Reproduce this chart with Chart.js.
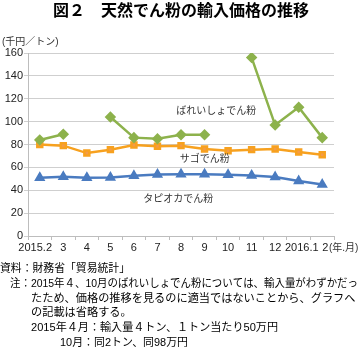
<!DOCTYPE html>
<html>
<head>
<meta charset="utf-8">
<script src="https://cdn.jsdelivr.net/npm/chart.js@4/dist/chart.umd.min.js"></script>
<style>
  body { margin: 0; background: #fff; }
  #wrap { position: relative; width: 360px; height: 347px; }
</style>
</head>
<body>
<div id="wrap"><canvas id="mycanvas" width="360" height="347"></canvas></div>
<script>
var months = ['2015.2', '3', '4', '5', '6', '7', '8', '9', '10', '11', '12', '2016.1', '2'];
var potato = [84, 89, null, 104, 86, 85, 88.5, 88.5, null, 156, 97, 112.5, 86];
var sago = [80, 79, 72.5, 75.5, 79.5, 78.5, 79, 76, 74.5, 75.5, 76, 73.5, 71];
var tapioca = [51, 51.8, 51, 51.2, 52.6, 53.8, 54, 54, 53.5, 53, 51.5, 48, 45];
var yTicks = [0, 20, 40, 60, 80, 100, 120, 140, 160];

var FONT = '"Liberation Sans", "Noto Sans CJK JP", sans-serif';

// footnote lines: x, y, max width
var notes = [
	{ x: 0, y: 269, w: 130, t: '資料：財務省「貿易統計」' },
	{ x: 10, y: 284, w: 348, t: '注：2015年４、10月のばれいしょでん粉については、輸入量がわずかだっ' },
	{ x: 31, y: 299, w: 327, t: 'たため、価格の推移を見るのに適当ではないことから、グラフへ' },
	{ x: 31, y: 313, w: 200, t: 'の記載は省略する。' },
	{ x: 31, y: 328, w: 247, t: '2015年４月：輸入量４トン、１トン当たり50万円' },
	{ x: 60, y: 343, w: 128, t: '10月：同2トン、同98万円' }
];

var extras = {
	id: 'extras',
	afterDraw: function(chart) {
		var c = chart.ctx;
		var xs = chart.scales.x, ys = chart.scales.y;
		c.save();
		c.fillStyle = '#000';
		c.textBaseline = 'middle';
		c.textAlign = 'center';
		c.font = 'bold 16px ' + FONT;
		c.fillText('図２　天然でん粉の輸入価格の推移', 181, 12);

		c.textAlign = 'left';
		c.font = '10px ' + FONT;
		c.fillStyle = '#333';
		c.fillText('(千円／トン)', 2, 42);

		c.font = '10px ' + FONT;
		c.fillText('(年.月)', 329, 248, 31);

		// series labels
		c.font = '10px ' + FONT;
		c.fillText('ばれいしょでん粉', xs.getPixelForValue(5.8), ys.getPixelForValue(109.5));
		c.fillText('サゴでん粉', xs.getPixelForValue(5.95), ys.getPixelForValue(67.5));
		c.fillText('タピオカでん粉', xs.getPixelForValue(4.4), ys.getPixelForValue(32));

		c.fillStyle = '#000';
		c.font = '11.2px ' + FONT;
		for (var i in notes) {
			c.fillText(notes[i].t, notes[i].x, notes[i].y, notes[i].w);
		}
		c.restore();
	}
};

var ctx = document.getElementById('mycanvas');

var lineChart = new Chart(ctx, {
	type: 'line',
	data: {
		labels: months,
		datasets: [
			{
				label: 'ばれいしょでん粉',
				data: potato,
				borderColor: '#8db24c',
				backgroundColor: '#8db24c',
				pointStyle: 'rectRot',
				pointRadius: 4,
				borderWidth: 2.5,
				spanGaps: false
			},
			{
				label: 'サゴでん粉',
				data: sago,
				borderColor: '#f7a11f',
				backgroundColor: '#f39a4c',
				pointStyle: 'rect',
				pointRadius: 3.5,
				borderWidth: 2.5
			},
			{
				label: 'タピオカでん粉',
				data: tapioca,
				borderColor: '#4a7bc0',
				backgroundColor: '#4a7bc0',
				pointStyle: 'triangle',
				pointRadius: 4,
				borderWidth: 2.5
			}
		]
	},
	options: {
		responsive: false,
		animation: false,
		layout: { padding: { top: 53, left: 0, right: 26, bottom: 91 } },
		plugins: {
			legend: { display: false },
			tooltip: { enabled: false }
		},
		elements: { line: { tension: 0 } },
		scales: {
			x: {
				offset: true,
				afterFit: function(scale) { scale.height = 20; },
				grid: {
					offset: true,
					drawOnChartArea: false,
					tickLength: 4,
					color: '#bdbdbd'
				},
				border: { color: '#bdbdbd', width: 1 },
				ticks: {
					color: '#222',
					font: { size: 11, family: FONT },
					maxRotation: 0,
					autoSkip: false,
					padding: 1,
					callback: function(v, i) {
						// nudge crowded labels like the original
						if (i === 0) return '2015.2   ';
						if (i === 11) return '  2016.1';
						if (i === 12) return '  2';
						return months[i];
					}
				}
			},
			y: {
				min: 0,
				max: 160,
				afterFit: function(scale) { scale.width = 28; },
				afterBuildTicks: function(scale) {
					scale.ticks = yTicks.map(function(v) { return { value: v }; });
				},
				grid: { color: '#cfcfcf', tickLength: 4 },
				border: { color: '#bdbdbd', width: 1 },
				ticks: {
					color: '#222',
					font: { size: 11, family: FONT },
					padding: 1
				}
			}
		}
	},
	plugins: [extras]
});
</script>
</body>
</html>
